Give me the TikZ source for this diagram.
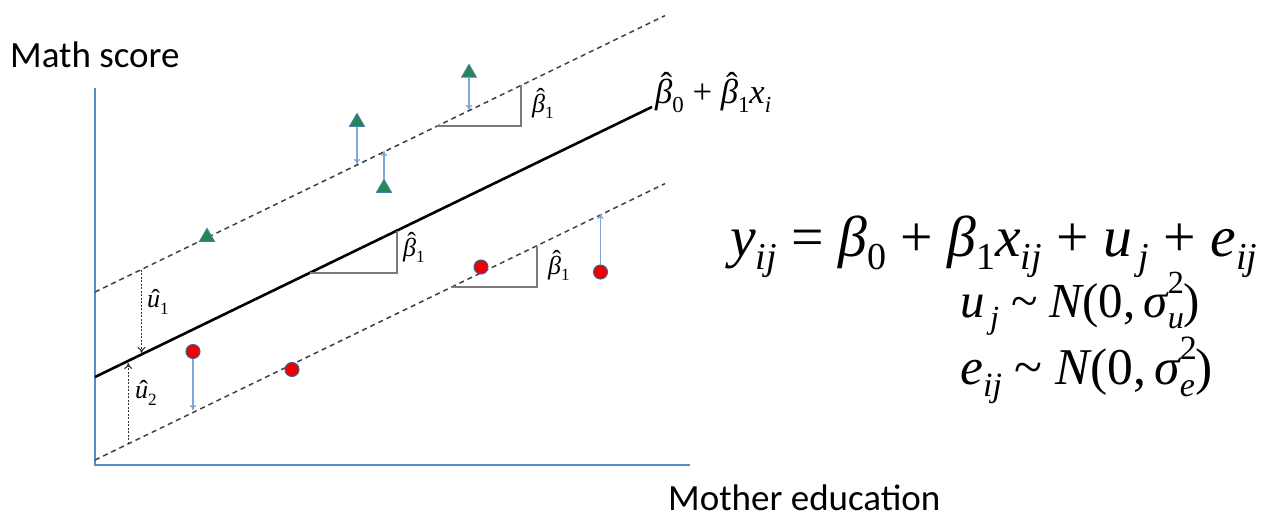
\documentclass[tikz,border=0pt]{standalone}
\usepackage{fontspec}
\newfontfamily\tms{Liberation Serif}
\newfontfamily\calib{Carlito}
\usetikzlibrary{shapes.geometric,arrows.meta}
\newcommand{\sbs}[1]{\raisebox{-0.24em}{\scalebox{0.66}{#1}}}
\newcommand{\sps}[1]{\raisebox{0.48em}{\scalebox{0.66}{#1}}}
\newcommand{\hb}[2][0.2em]{\ooalign{#2\cr\hidewidth\kern0.15em\raisebox{#1}{\upshape ˆ}\hidewidth\cr}}
\newcommand{\op}[1]{\hspace{0.25em}{\upshape #1}\hspace{0.25em}}
\definecolor{axisblue}{HTML}{5B8BC9}
\definecolor{arrblue}{HTML}{7FA6D6}
\definecolor{trigreen}{HTML}{1F8A4C}
\definecolor{triedge}{HTML}{4A7AAA}
\definecolor{dotred}{HTML}{F00000}
\definecolor{dotedge}{HTML}{3A5F95}
\definecolor{slopegray}{HTML}{7A7A7A}
\tikzset{
  axisline/.style={draw=axisblue,line width=2.2pt},
  fitline/.style={draw=black,line width=2.6pt},
  groupline/.style={draw=black!75,line width=1.5pt,dash pattern=on 5pt off 4pt},
  slopeline/.style={draw=slopegray,line width=1.6pt},
  resid/.style={draw=arrblue,line width=1.2pt,-{To[length=5pt,width=6pt]}},
  uarrow/.style={draw=black!80,line width=1.1pt,dash pattern=on 2pt off 1.5pt,-{To[length=6pt,width=8pt]}},
  tri/.style={regular polygon,regular polygon sides=3,fill=trigreen,draw=triedge,line width=1pt,minimum size=17pt,inner sep=0pt},
  dot/.style={circle,fill=dotred,draw=dotedge,line width=1pt,minimum size=14pt,inner sep=0pt},
  lbl/.style={inner sep=0pt,font=\tms\fontsize{26}{28}\selectfont\itshape},
  eqn/.style={inner sep=0pt,anchor=base west,font=\tms\fontsize{30}{32}\selectfont\itshape},
  txt/.style={inner sep=0pt,font=\calib\fontsize{37}{40}\selectfont}
}
\begin{document}
\begin{tikzpicture}[x=1pt,y=-1pt]
\useasboundingbox (0,0) rectangle (1261,519);
% axes
\coordinate (O) at (95,465);
\coordinate (Ytop) at (95,88);
\coordinate (Xend) at (690,465);
\draw[axisline] (Ytop) -- (O) -- (Xend);
% lines (slope 0.485)
\coordinate (S0) at (95,377);  \coordinate (S1) at (652,106.9);
\coordinate (U0) at (95,292);  \coordinate (U1) at (665,15.6);
\coordinate (L0) at (95,460);  \coordinate (L1) at (665,183.6);
\draw[groupline] (U0) -- (U1);
\draw[groupline] (L0) -- (L1);
\draw[fitline] (S0) -- (S1);
% slope triangles
\coordinate (a1) at (437,126.1); \coordinate (a2) at (521,126.1); \coordinate (a3) at (521,85.4);
\draw[slopeline] (a1) -- (a2) -- (a3);
\coordinate (b1) at (310,272.7); \coordinate (b2) at (397,272.7); \coordinate (b3) at (397,230.5);
\draw[slopeline] (b1) -- (b2) -- (b3);
\coordinate (c1) at (452,286.9); \coordinate (c2) at (537,286.9); \coordinate (c3) at (537,245.6);
\draw[slopeline] (c1) -- (c2) -- (c3);
\node[lbl] (sb1) at (543,106) {\hb{β}\sbs{\upshape 1}};
\node[lbl] (sb2) at (414,250) {\hb{β}\sbs{\upshape 1}};
\node[lbl] (sb3) at (559,268) {\hb{β}\sbs{\upshape 1}};
% u hats
\coordinate (u1a) at (141.5,269.7); \coordinate (u1b) at (141.5,353);
\draw[uarrow] (u1a) -- (u1b);
\coordinate (u2a) at (128.3,443.9); \coordinate (u2b) at (128.3,363);
\draw[uarrow] (u2a) -- (u2b);
\node[lbl] (lu1) at (158,305) {\hb[0em]{u}\sbs{\upshape 1}};
\node[lbl] (lu2) at (146,396) {\hb[0em]{u}\sbs{\upshape 2}};
% triangles
\node[tri] (t1) at (207,237) {};
\node[tri] (t2) at (357,122) {};
\node[tri] (t3) at (384,188) {};
\node[tri] (t4) at (469,73) {};
\coordinate (t2e) at (357,164); \coordinate (t3e) at (384,151); \coordinate (t4e) at (469,110);
\draw[resid] (t2.south) -- (t2e);
\draw[resid] (t3.north) -- (t3e);
\draw[resid] (t4.south) -- (t4e);
% circles
\node[dot] (d1) at (193,351.5) {};
\node[dot] (d2) at (292,369.5) {};
\node[dot] (d3) at (481,267) {};
\node[dot] (d4) at (600.5,272) {};
\coordinate (d1e) at (193,410); \coordinate (d4e) at (600.5,214);
\draw[resid] (d1.south) -- (d1e);
\draw[resid] (d4.north) -- (d4e);
% fitted line label
\node[lbl,anchor=west] (fl) at (655,96) {\resizebox{116pt}{!}{\hb{β}\sbs{\upshape 0}\op{+}\hb{β}\sbs{\upshape 1}x\sbs{i}}};
% equations
\node[eqn] (eq) at (730,256) {\resizebox{527pt}{!}{y\sbs{ij}\op{=}β\sbs{\upshape 0}\op{+}β\sbs{\upshape 1}x\sbs{ij}\op{+}u\sbs{\,j}\op{+}e\sbs{ij}}};
\node[eqn] (equ) at (960,317) {\resizebox{240pt}{!}{u\sbs{\,j}\op{\textasciitilde}N{\upshape (0,\,}σ\makebox[0pt][l]{\sps{\upshape 2}}\sbs{u}{\upshape )}}};
\node[eqn] (eqe) at (960,384) {\resizebox{252pt}{!}{e\sbs{ij}\op{\textasciitilde}N{\upshape (0,\,}σ\makebox[0pt][l]{\sps{\upshape 2}}\sbs{e}{\upshape )}}};
% axis titles
\node[txt,anchor=base west] (ytitle) at (10,68) {Math score};
\node[txt,anchor=base west] (xtitle) at (668,510) {Mother education};
\end{tikzpicture}
\end{document}
